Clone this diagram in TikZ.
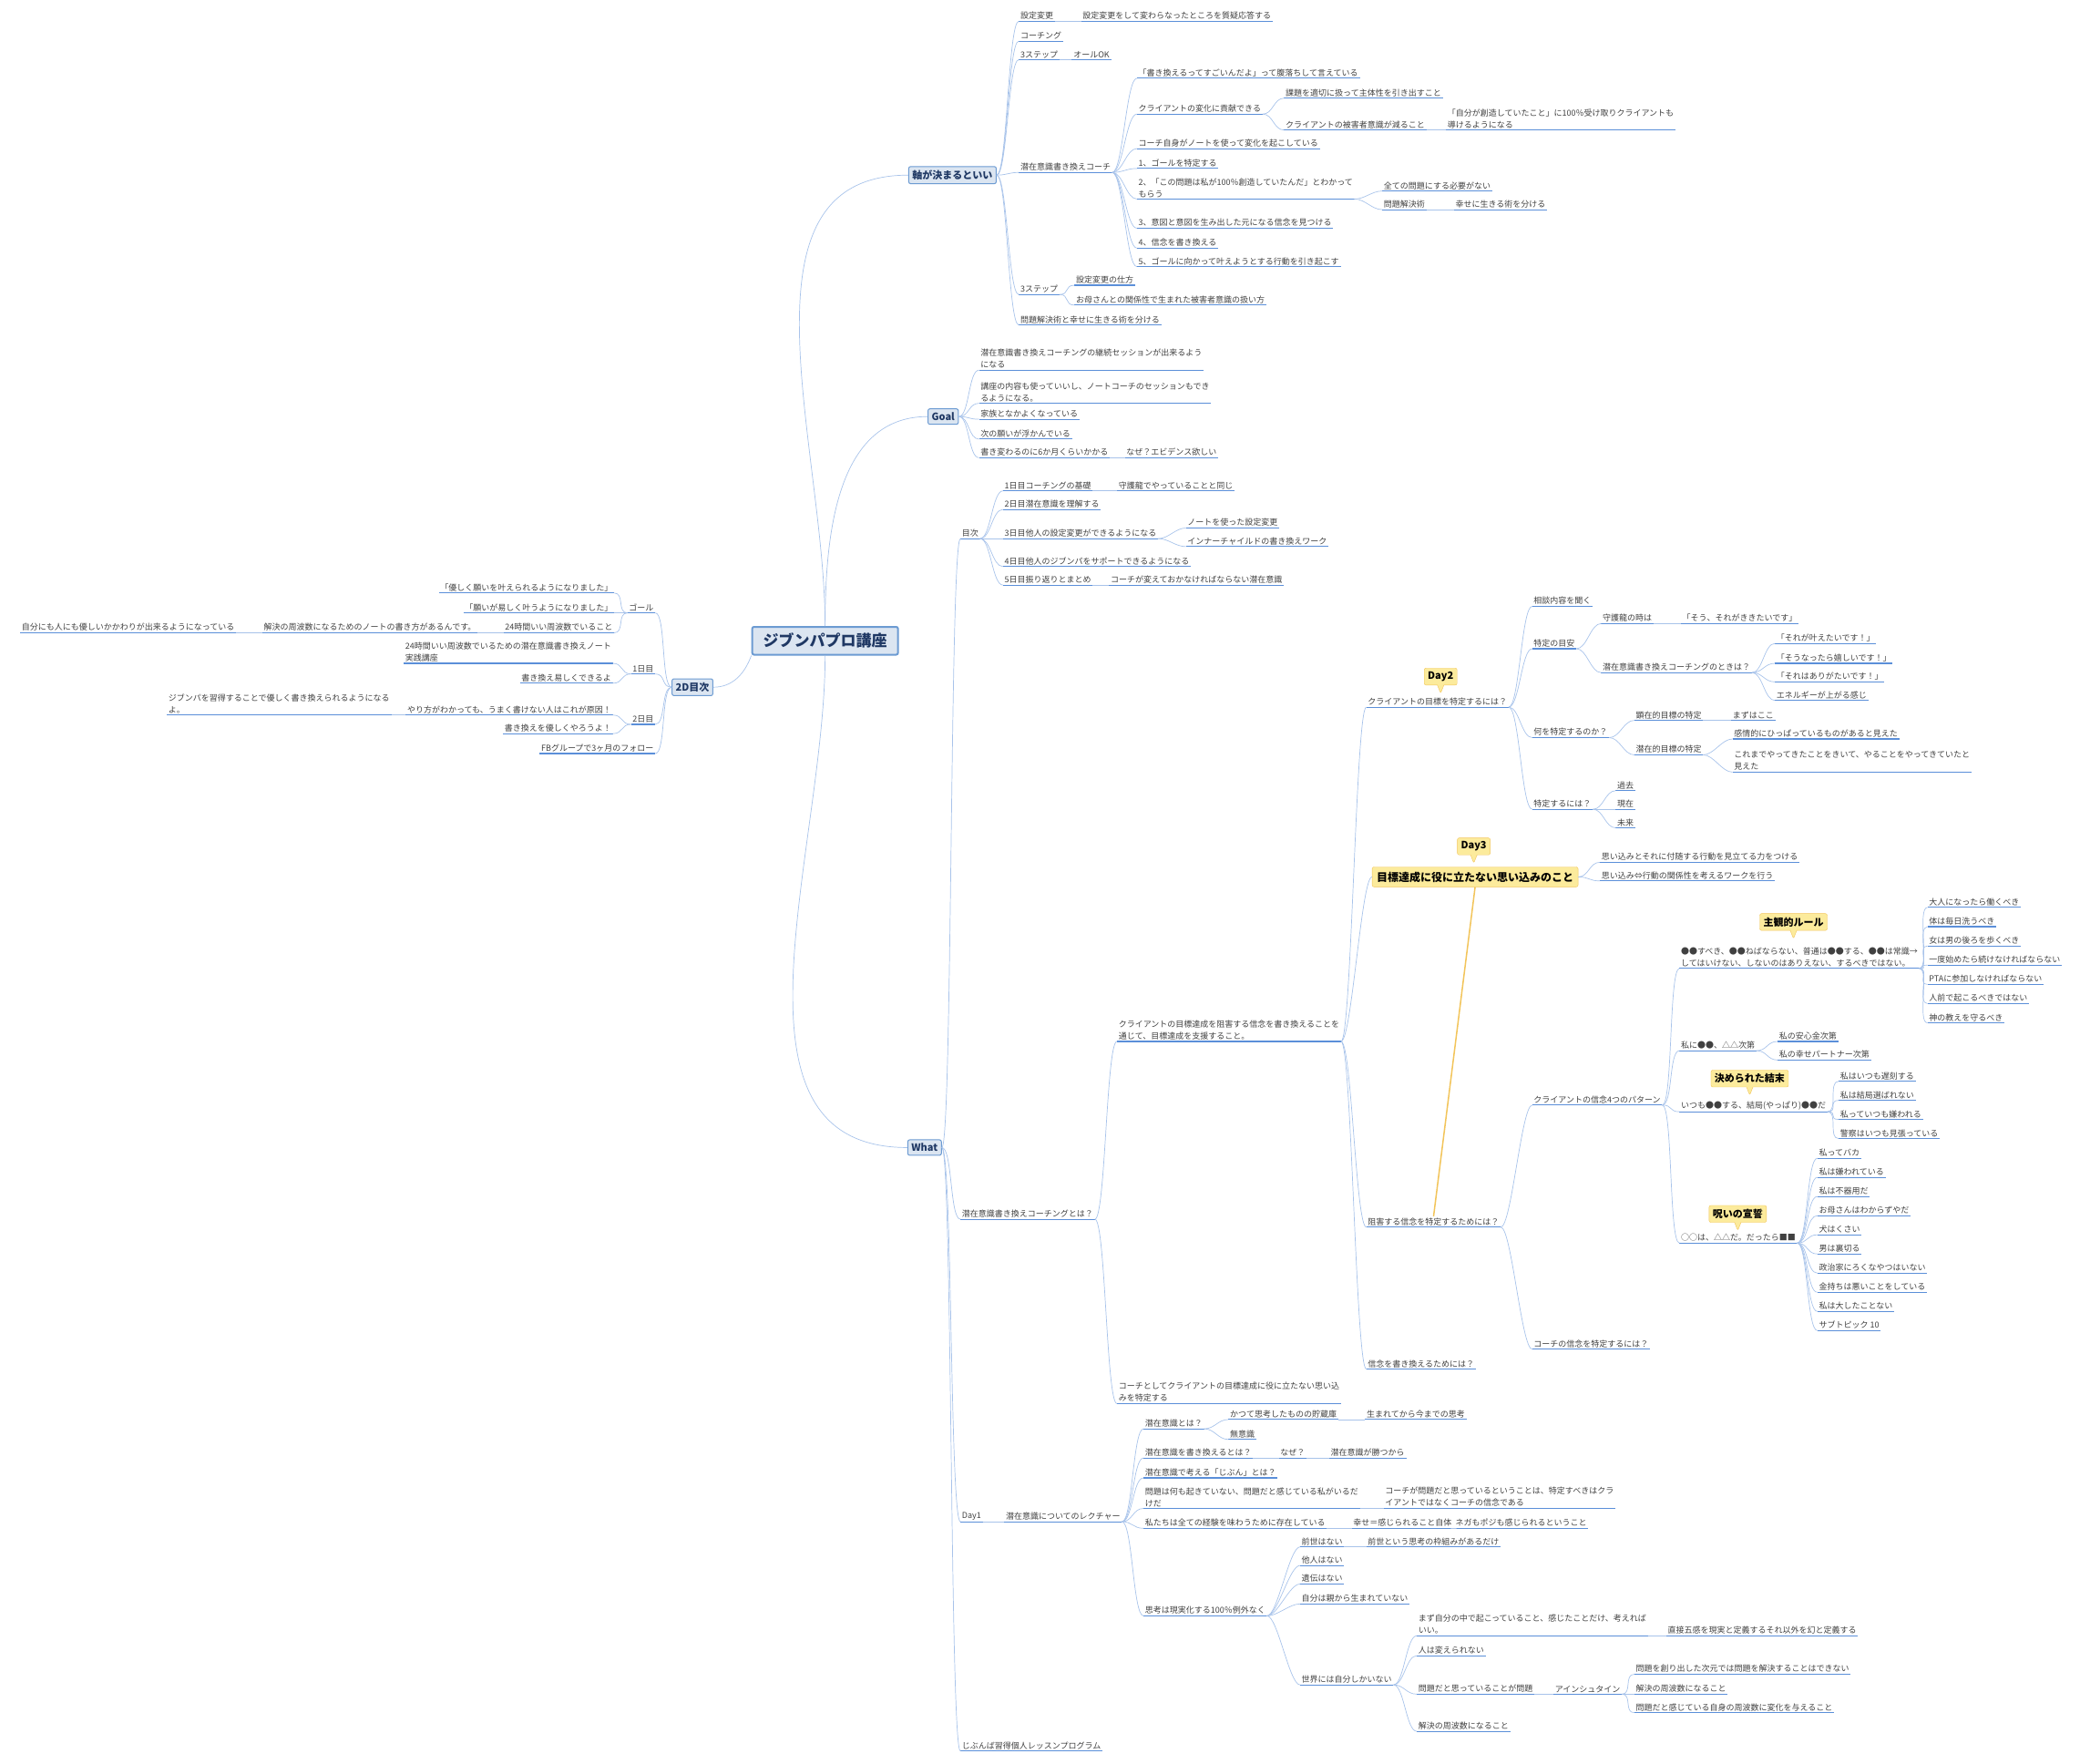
\documentclass[tikz,border=0pt]{standalone}
\usepackage{fontspec}
\setmainfont{Noto Sans CJK JP}
\usetikzlibrary{shapes.callouts}
\definecolor{ulblue}{HTML}{5B8FD9}
\definecolor{brblue}{HTML}{A8C3EA}
\definecolor{boxfill}{HTML}{DBE5F1}
\definecolor{boxline}{HTML}{6C9BD2}
\definecolor{boxtext}{HTML}{1F3864}
\definecolor{notefill}{HTML}{FCEB9C}
\definecolor{noteline}{HTML}{F2C45A}

\tikzset{
  uline/.style={draw=ulblue, line width=1.1pt},
  branch/.style={draw=brblue, line width=0.7pt},
  topic/.style={anchor=south west, inner sep=1.6pt, align=left, text=black!75,
    font=\fontsize{9}{13}\selectfont,
    append after command={(\tikzlastnode.south west) edge[uline] (\tikzlastnode.south east)}},
  ltopic/.style={topic, anchor=south east},
  mainbox/.style={draw=boxline, fill=boxfill, rounded corners=2pt, line width=1pt,
    text=boxtext, inner sep=4pt, font=\fontsize{11}{13}\selectfont\bfseries},
  rootbox/.style={mainbox, line width=2pt, inner xsep=12pt, inner ysep=7pt,
    font=\fontsize{17}{20}\selectfont\bfseries},
  note/.style={rectangle callout, callout relative pointer={(0pt,-9pt)}, draw=noteline,
    fill=notefill, rounded corners=2pt, inner sep=4pt, font=\fontsize{11}{13}\selectfont\bfseries},
  hilite/.style={draw=noteline, fill=notefill, rounded corners=2pt, inner sep=5pt,
    font=\fontsize{12}{14}\selectfont\bfseries}
}
\newcommand\kidsR[2]{\foreach \c in {#2}{\draw[branch] (#1) .. controls +(8,0) and +(-8,0) .. (\c.south west);}}
\newcommand\kidsL[2]{\foreach \c in {#2}{\draw[branch] (#1) .. controls +(-8,0) and +(8,0) .. (\c.south east);}}

\begin{document}
\begin{tikzpicture}[x=1.456pt, y=-1.456pt]
  \useasboundingbox (0,0) rectangle (1568,1329);

  % root and main branches
  \node[rootbox] (root) at (622,483) {ジブンパプロ講座};
  \node[mainbox] (A) at (718,132) {軸が決まるといい};
  \node[mainbox] (G) at (711,314) {Goal};
  \node[mainbox] (W) at (697,865) {What};
  \node[mainbox] (M2D) at (522,518) {2D目次};
  \draw[branch] (root.north) to[out=90,in=180] (A.west);
  \draw[branch] (root.north) to[out=90,in=180] (G.west);
  \draw[branch] (root.south) to[out=-90,in=180] (W.west);
  \draw[branch] (root.south west) to[out=-110,in=0] (M2D.east);

  % 2D目次 (left side)
  \node[ltopic] (L-goal) at (494,462) {ゴール};
  \node[ltopic] (L-g1) at (463,447) {「優しく願いを叶えられるようになりました」};
  \node[ltopic] (L-g2) at (463,462) {「願いが易しく叶うようになりました」};
  \node[ltopic] (L-g3) at (463,477) {24時間いい周波数でいること};
  \node[ltopic] (L-g3a) at (360,477) {解決の周波数になるためのノートの書き方があるんです。};
  \node[ltopic] (L-g3b) at (178,477) {自分にも人にも優しいかかわりが出来るようになっている};
  \node[ltopic] (L-d1) at (494,508) {1日目};
  \node[ltopic, align=left] (L-d1a) at (462,500) {24時間いい周波数でいるための潜在意識書き換えノート\\実践講座};
  \node[ltopic] (L-d1b) at (462,515) {書き換え易しくできるよ};
  \node[ltopic] (L-d2) at (494,546) {2日目};
  \node[ltopic] (L-d2a) at (462,539) {やり方がわかっても、うまく書けない人はこれが原因！};
  \node[ltopic, align=left] (L-d2aa) at (295,539) {ジブンパを習得することで優しく書き換えられるようになる\\よ。};
  \node[ltopic] (L-d2b) at (462,553) {書き換えを優しくやろうよ！};
  \node[ltopic] (L-fb) at (494,568) {FBグループで3ヶ月のフォロー};
  \kidsL{M2D.west}{L-goal,L-d1,L-d2,L-fb}
  \kidsL{L-goal.south west}{L-g1,L-g2,L-g3}
  \kidsL{L-g3.south west}{L-g3a}
  \kidsL{L-g3a.south west}{L-g3b}
  \kidsL{L-d1.south west}{L-d1a,L-d1b}
  \kidsL{L-d2.south west}{L-d2a,L-d2b}
  \kidsL{L-d2a.south west}{L-d2aa}

  % 軸が決まるといい
  \node[topic] (A-1) at (768,16) {設定変更};
  \node[topic] (A-1a) at (815,16) {設定変更をして変わらなったところを質疑応答する};
  \node[topic] (A-2) at (768,31) {コーチング};
  \node[topic] (A-3) at (768,45) {3ステップ};
  \node[topic] (A-3a) at (808,45) {オールOK};
  \node[topic] (A-4) at (768,130) {潜在意識書き換えコーチ};
  \node[topic] (A-4a) at (857,59) {「書き換えるってすごいんだよ」って腹落ちして言えている};
  \node[topic] (A-4b) at (857,86) {クライアントの変化に貢献できる};
  \node[topic] (A-4b1) at (968,74) {課題を適切に扱って主体性を引き出すこと};
  \node[topic] (A-4b2) at (968,98) {クライアントの被害者意識が減ること};
  \node[topic] (A-4b2a) at (1090,98) {「自分が創造していたこと」に100％受け取りクライアントも\\導けるようになる};
  \node[topic] (A-4c) at (857,112) {コーチ自身がノートを使って変化を起こしている};
  \node[topic] (A-4d) at (857,127) {1、ゴールを特定する};
  \node[topic] (A-4e) at (857,150) {2、「この問題は私が100％創造していたんだ」とわかって\\もらう};
  \node[topic] (A-4e1) at (1042,144) {全ての問題にする必要がない};
  \node[topic] (A-4e2) at (1042,158) {問題解決術};
  \node[topic] (A-4e2a) at (1096,158) {幸せに生きる術を分ける};
  \node[topic] (A-4f) at (857,172) {3、意図と意図を生み出した元になる信念を見つける};
  \node[topic] (A-4g) at (857,187) {4、信念を書き換える};
  \node[topic] (A-4h) at (857,201) {5、ゴールに向かって叶えようとする行動を引き起こす};
  \node[topic] (A-5) at (768,222) {3ステップ};
  \node[topic] (A-5a) at (810,215) {設定変更の仕方};
  \node[topic] (A-5b) at (810,230) {お母さんとの関係性で生まれた被害者意識の扱い方};
  \node[topic] (A-6) at (768,245) {問題解決術と幸せに生きる術を分ける};
  \kidsR{A.east}{A-1,A-2,A-3,A-4,A-5,A-6}
  \kidsR{A-1.south east}{A-1a}
  \kidsR{A-3.south east}{A-3a}
  \kidsR{A-4.south east}{A-4a,A-4b,A-4c,A-4d,A-4e,A-4f,A-4g,A-4h}
  \kidsR{A-4b.south east}{A-4b1,A-4b2}
  \kidsR{A-4b2.south east}{A-4b2a}
  \kidsR{A-4e.south east}{A-4e1,A-4e2}
  \kidsR{A-4e2.south east}{A-4e2a}
  \kidsR{A-5.south east}{A-5a,A-5b}

  % Goal
  \node[topic] (G-1) at (738,279) {潜在意識書き換えコーチングの継続セッションが出来るよう\\になる};
  \node[topic] (G-2) at (738,304) {講座の内容も使っていいし、ノートコーチのセッションもでき\\るようになる。};
  \node[topic] (G-3) at (738,316) {家族となかよくなっている};
  \node[topic] (G-4) at (738,331) {次の願いが浮かんでいる};
  \node[topic] (G-5) at (738,345) {書き変わるのに6か月くらいかかる};
  \node[topic] (G-5a) at (848,345) {なぜ？エビデンス欲しい};
  \kidsR{G.east}{G-1,G-2,G-3,G-4,G-5}
  \kidsR{G-5.south east}{G-5a}

  % What
  \node[topic] (W-1) at (724,406) {目次};
  \node[topic] (W-1a) at (756,370) {1日目コーチングの基礎};
  \node[topic] (W-1a1) at (842,370) {守護龍でやっていることと同じ};
  \node[topic] (W-1b) at (756,384) {2日目潜在意識を理解する};
  \node[topic] (W-1c) at (756,406) {3日目他人の設定変更ができるようになる};
  \node[topic] (W-1c1) at (894,398) {ノートを使った設定変更};
  \node[topic] (W-1c2) at (894,412) {インナーチャイルドの書き換えワーク};
  \node[topic] (W-1d) at (756,427) {4日目他人のジブンパをサポートできるようになる};
  \node[topic] (W-1e) at (756,441) {5日目振り返りとまとめ};
  \node[topic] (W-1e1) at (836,441) {コーチが変えておかなければならない潜在意識};
  \node[topic] (W-2) at (724,919) {潜在意識書き換えコーチングとは？};
  \node[topic] (W-3) at (724,1147) {Day1};
  \node[topic] (W-4) at (724,1320) {じぶんば習得個人レッスンプログラム};
  \kidsR{W.east}{W-1,W-2,W-3,W-4}
  \kidsR{W-1.south east}{W-1a,W-1b,W-1c,W-1d,W-1e}
  \kidsR{W-1a.south east}{W-1a1}
  \kidsR{W-1c.south east}{W-1c1,W-1c2}
  \kidsR{W-1e.south east}{W-1e1}

  % 潜在意識書き換えコーチングとは？
  \node[topic] (B-1) at (842,785) {クライアントの目標達成を阻害する信念を書き換えることを\\通じて、目標達成を支援すること。};
  \node[topic] (B-2) at (842,1058) {コーチとしてクライアントの目標達成に役に立たない思い込\\みを特定する};
  \kidsR{W-2.south east}{B-1,B-2}

  \node[topic] (C-1) at (1030,533) {クライアントの目標を特定するには？};
  \node[hilite] (C-2) at (1112,661) {目標達成に役に立たない思い込みのこと};
  \node[topic] (C-3) at (1030,925) {阻害する信念を特定するためには？};
  \node[topic] (C-4) at (1030,1032) {信念を書き換えるためには？};
  \kidsR{B-1.south east}{C-1,C-3,C-4}
  \draw[branch] (B-1.south east) .. controls +(8,0) and +(-8,0) .. (C-2.west);
  \node[note] (day2) at (1086,510) {Day2};
  \node[note] (day3) at (1111,638) {Day3};
  \draw[noteline, line width=1.5pt] (C-2.south) -- (C-3.north);

  \node[topic] (C-1a) at (1155,457) {相談内容を聞く};
  \node[topic] (C-1b) at (1155,489) {特定の目安};
  \node[topic] (C-1b1) at (1207,470) {守護龍の時は};
  \node[topic] (C-1b1a) at (1267,470) {「そう、それがききたいです」};
  \node[topic] (C-1b2) at (1207,507) {潜在意識書き換えコーチングのときは？};
  \node[topic] (C-1b2a) at (1338,485) {「それが叶えたいです！」};
  \node[topic] (C-1b2b) at (1338,500) {「そうなったら嬉しいです！」};
  \node[topic] (C-1b2c) at (1338,514) {「それはありがたいです！」};
  \node[topic] (C-1b2d) at (1338,528) {エネルギーが上がる感じ};
  \node[topic] (C-1c) at (1155,556) {何を特定するのか？};
  \node[topic] (C-1c1) at (1232,543) {顕在的目標の特定};
  \node[topic] (C-1c1a) at (1305,543) {まずはここ};
  \node[topic] (C-1c2) at (1232,569) {潜在的目標の特定};
  \node[topic] (C-1c2a) at (1306,557) {感情的にひっぱっているものがあると見えた};
  \node[topic] (C-1c2b) at (1306,582) {これまでやってきたことをきいて、やることをやってきていたと\\見えた};
  \node[topic] (C-1d) at (1155,610) {特定するには？};
  \node[topic] (C-1d1) at (1218,596) {過去};
  \node[topic] (C-1d2) at (1218,610) {現在};
  \node[topic] (C-1d3) at (1218,624) {未来};
  \kidsR{C-1.south east}{C-1a,C-1b,C-1c,C-1d}
  \kidsR{C-1b.south east}{C-1b1,C-1b2}
  \kidsR{C-1b1.south east}{C-1b1a}
  \kidsR{C-1b2.south east}{C-1b2a,C-1b2b,C-1b2c,C-1b2d}
  \kidsR{C-1c.south east}{C-1c1,C-1c2}
  \kidsR{C-1c1.south east}{C-1c1a}
  \kidsR{C-1c2.south east}{C-1c2a,C-1c2b}
  \kidsR{C-1d.south east}{C-1d1,C-1d2,C-1d3}

  \node[topic] (C-2a) at (1206,650) {思い込みとそれに付随する行動を見立てる力をつける};
  \node[topic] (C-2b) at (1206,664) {思い込み⇔行動の関係性を考えるワークを行う};
  \kidsR{C-2.east}{C-2a,C-2b}

  % 阻害する信念
  \node[topic] (D-1) at (1155,833) {クライアントの信念4つのパターン};
  \node[topic] (D-2) at (1155,1017) {コーチの信念を特定するには？};
  \kidsR{C-3.south east}{D-1,D-2}
  \node[topic] (D-1a) at (1266,730) {●●すべき、●●ねばならない、普通は●●する、●●は常識→\\してはいけない、しないのはありえない、するべきではない。};
  \node[topic] (D-1b) at (1266,792) {私に●●、△△次第};
  \node[topic] (D-1c) at (1266,838) {いつも●●する、結局(やっぱり)●●だ};
  \node[topic] (D-1d) at (1266,937) {○○は、△△だ。だったら■■};
  \kidsR{D-1.south east}{D-1a,D-1b,D-1c,D-1d}
  \node[note] at (1352,695) {主観的ルール};
  \node[note] at (1319,813) {決められた結末};
  \node[note] at (1310,915) {呪いの宣誓};

  \foreach \t [count=\i] in {大人になったら働くべき, 体は毎日洗うべき, 女は男の後ろを歩くべき,
      一度始めたら続けなければならない, PTAに参加しなければならない, 人前で起こるべきではない, 神の教えを守るべき}
    \node[topic] (R-\i) at (1453,{684+14.5*(\i-1)}) {\t};
  \kidsR{D-1a.south east}{R-1,R-2,R-3,R-4,R-5,R-6,R-7}
  \node[topic] (D-1b1) at (1340,785) {私の安心金次第};
  \node[topic] (D-1b2) at (1340,799) {私の幸せパートナー次第};
  \kidsR{D-1b.south east}{D-1b1,D-1b2}
  \foreach \t [count=\i] in {私はいつも遅刻する, 私は結局選ばれない, 私っていつも嫌われる, 警察はいつも見張っている}
    \node[topic] (K-\i) at (1386,{815+14.4*(\i-1)}) {\t};
  \kidsR{D-1c.south east}{K-1,K-2,K-3,K-4}
  \foreach \t [count=\i] in {私ってバカ, 私は嫌われている, 私は不器用だ, お母さんはわからずやだ, 犬はくさい,
      男は裏切る, 政治家にろくなやつはいない, 金持ちは悪いことをしている, 私は大したことない, サブトピック 10}
    \node[topic] (S-\i) at (1370,{873+14.44*(\i-1)}) {\t};
  \kidsR{D-1d.south east}{S-1,S-2,S-3,S-4,S-5,S-6,S-7,S-8,S-9,S-10}

  % Day1
  \node[topic] (E) at (757,1147) {潜在意識についてのレクチャー};
  \kidsR{W-3.south east}{E}
  \node[topic] (E-1) at (862,1077) {潜在意識とは？};
  \node[topic] (E-1a) at (926,1070) {かつて思考したものの貯蔵庫};
  \node[topic] (E-1a1) at (1029,1070) {生まれてから今までの思考};
  \node[topic] (E-1b) at (926,1085) {無意識};
  \node[topic] (E-2) at (862,1099) {潜在意識を書き換えるとは？};
  \node[topic] (E-2a) at (964,1099) {なぜ？};
  \node[topic] (E-2a1) at (1002,1099) {潜在意識が勝つから};
  \node[topic] (E-3) at (862,1114) {潜在意識で考える「じぶん」とは？};
  \node[topic] (E-4) at (862,1137) {問題は何も起きていない、問題だと感じている私がいるだ\\けだ};
  \node[topic] (E-4a) at (1043,1137) {コーチが問題だと思っているということは、特定すべきはクラ\\イアントではなくコーチの信念である};
  \node[topic] (E-5) at (862,1152) {私たちは全ての経験を味わうために存在している};
  \node[topic] (E-5a) at (1019,1152) {幸せ＝感じられること自体};
  \node[topic] (E-5a1) at (1096,1152) {ネガもポジも感じられるということ};
  \node[topic] (E-6) at (862,1218) {思考は現実化する100％例外なく};
  \kidsR{E.south east}{E-1,E-2,E-3,E-4,E-5,E-6}
  \kidsR{E-1.south east}{E-1a,E-1b}
  \kidsR{E-1a.south east}{E-1a1}
  \kidsR{E-2.south east}{E-2a}
  \kidsR{E-2a.south east}{E-2a1}
  \kidsR{E-4.south east}{E-4a}
  \kidsR{E-5.south east}{E-5a}
  \kidsR{E-5a.south east}{E-5a1}

  \node[topic] (F-1) at (980,1166) {前世はない};
  \node[topic] (F-1a) at (1030,1166) {前世という思考の枠組みがあるだけ};
  \node[topic] (F-2) at (980,1180) {他人はない};
  \node[topic] (F-3) at (980,1194) {遺伝はない};
  \node[topic] (F-4) at (980,1209) {自分は親から生まれていない};
  \node[topic] (F-5) at (980,1270) {世界には自分しかいない};
  \kidsR{E-6.south east}{F-1,F-2,F-3,F-4,F-5}
  \kidsR{F-1.south east}{F-1a}
  \node[topic] (H-1) at (1068,1233) {まず自分の中で起こっていること、感じたことだけ、考えれば\\いい。};
  \node[topic] (H-1a) at (1256,1233) {直接五感を現実と定義するそれ以外を幻と定義する};
  \node[topic] (H-2) at (1068,1248) {人は変えられない};
  \node[topic] (H-3) at (1068,1277) {問題だと思っていることが問題};
  \node[topic] (H-3a) at (1171,1277) {アインシュタイン};
  \node[topic] (H-3a1) at (1232,1262) {問題を創り出した次元では問題を解決することはできない};
  \node[topic] (H-3a2) at (1232,1277) {解決の周波数になること};
  \node[topic] (H-3a3) at (1232,1291) {問題だと感じている自身の周波数に変化を与えること};
  \node[topic] (H-4) at (1068,1305) {解決の周波数になること};
  \kidsR{F-5.south east}{H-1,H-2,H-3,H-4}
  \kidsR{H-1.south east}{H-1a}
  \kidsR{H-3.south east}{H-3a}
  \kidsR{H-3a.south east}{H-3a1,H-3a2,H-3a3}
\end{tikzpicture}
\end{document}
